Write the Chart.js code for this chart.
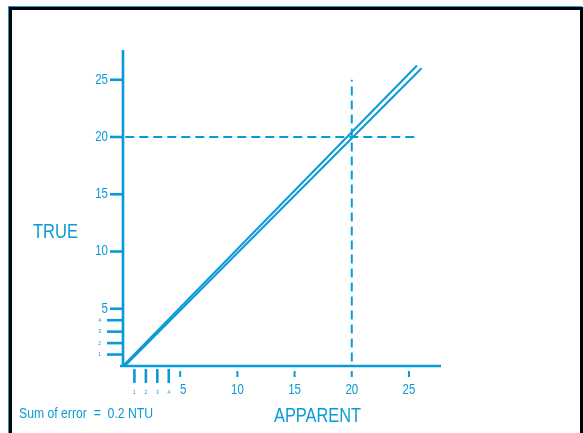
<!DOCTYPE html>
<html>
<head>
<meta charset="utf-8">
<script src="https://cdn.jsdelivr.net/npm/chart.js@4.4.1/dist/chart.umd.min.js"></script>
<style>
html,body{margin:0;padding:0;background:#fff;}
#wrap{position:absolute;left:0;top:0;width:583px;height:433px;}
</style>
</head>
<body>
<div id="wrap"><canvas id="c" width="583" height="433"></canvas></div>
<script>
// ---- data ----
const minorTicks = [1, 2, 3, 4];
const majorTicks = [5, 10, 15, 20, 25];
const majorLabels = ['5', '10', '15', '20', '25'];
const upperLine = [{x: 0, y: 0}, {x: 25.7, y: 26.25}];
const lowerLine = [{x: 0.15, y: 0}, {x: 26.1, y: 26.0}];
const refHorizontal = [{x: 0.2, y: 20}, {x: 25.6, y: 20}];
const refVertical = [{x: 20, y: 0.4}, {x: 20, y: 25}];
const xTitle = 'APPARENT';
const yTitle = 'TRUE';
const note = 'Sum of error  =  0.2 NTU';

const BLUE = '#0b9ad8';
const FONT = '"Liberation Sans", Arial, sans-serif';

function drawText(ctx, txt, x, y, size, targetW, align, base) {
  ctx.save();
  ctx.font = size + 'px ' + FONT;
  const w = ctx.measureText(txt).width;
  const sx = targetW ? targetW / w : 0.82;
  ctx.translate(x, y);
  ctx.scale(sx, 1);
  ctx.textAlign = align || 'left';
  ctx.textBaseline = base || 'middle';
  ctx.fillStyle = BLUE;
  ctx.fillText(txt, 0, 0);
  ctx.restore();
}

const decor = {
  id: 'decor',
  beforeDraw(chart) {
    const ctx = chart.ctx;
    ctx.save();
    ctx.fillStyle = '#fff';
    ctx.fillRect(0, 0, 583, 433);
    // frame
    ctx.fillStyle = '#1a9ad8';
    ctx.fillRect(8, 6, 574, 1);
    ctx.fillRect(8, 6, 1, 427);
    ctx.fillStyle = '#000';
    ctx.fillRect(9, 7, 574, 3);
    ctx.fillRect(9, 7, 3, 426);
    ctx.fillRect(580, 7, 3, 426);
    ctx.restore();
  },
  afterDraw(chart) {
    const ctx = chart.ctx;
    const xs = chart.scales.x, ys = chart.scales.y;
    const x0 = xs.getPixelForValue(0), y0 = ys.getPixelForValue(0);
    ctx.save();
    ctx.strokeStyle = BLUE;
    ctx.lineCap = 'butt';
    // axes
    ctx.lineWidth = 2.6;
    ctx.beginPath();
    ctx.moveTo(x0, chart.chartArea.top);
    ctx.lineTo(x0, y0 + 1);
    ctx.moveTo(x0 - 3, y0);
    ctx.lineTo(chart.chartArea.right, y0);
    ctx.stroke();
    // y ticks
    minorTicks.forEach(v => {
      const py = ys.getPixelForValue(v);
      ctx.beginPath(); ctx.moveTo(x0 - 16, py); ctx.lineTo(x0, py); ctx.stroke();
      drawText(ctx, String(v), x0 - 22, py, 6, null, 'right');
    });
    majorTicks.forEach((v, i) => {
      const py = ys.getPixelForValue(v);
      ctx.beginPath(); ctx.moveTo(x0 - 13, py); ctx.lineTo(x0, py); ctx.stroke();
      drawText(ctx, majorLabels[i], x0 - 15, py, 14, null, 'right');
    });
    // x ticks
    minorTicks.forEach(v => {
      const px = xs.getPixelForValue(v);
      ctx.beginPath(); ctx.moveTo(px, y0 + 3); ctx.lineTo(px, y0 + 17); ctx.stroke();
      drawText(ctx, String(v), px, y0 + 26, 6, null, 'center');
    });
    ctx.lineWidth = 2;
    majorTicks.forEach((v, i) => {
      const px = xs.getPixelForValue(v);
      ctx.beginPath(); ctx.moveTo(px, y0 + 5); ctx.lineTo(px, y0 + 11); ctx.stroke();
      drawText(ctx, majorLabels[i], px + (v === 5 ? 3 : 0), y0 + 24, 14, null, 'center');
    });
    // titles
    drawText(ctx, yTitle, 33, 232, 21, 45, 'left');
    drawText(ctx, xTitle, 274, 416, 21, 87, 'left');
    drawText(ctx, note, 19, 414, 14, 134, 'left');
    ctx.restore();
  }
};

new Chart(document.getElementById('c'), {
  type: 'scatter',
  data: {
    datasets: [
      {data: upperLine, showLine: true, borderColor: BLUE, borderWidth: 2, pointRadius: 0, clip: false},
      {data: lowerLine, showLine: true, borderColor: BLUE, borderWidth: 2, pointRadius: 0, clip: false},
      {data: refHorizontal, showLine: true, borderColor: BLUE, borderWidth: 2, borderDash: [9, 5], pointRadius: 0, clip: false},
      {data: refVertical, showLine: true, borderColor: BLUE, borderWidth: 2, borderDash: [9, 5], pointRadius: 0, clip: false}
    ]
  },
  options: {
    responsive: false,
    animation: false,
    events: [],
    layout: {padding: {left: 123, top: 50, right: 142, bottom: 67}},
    plugins: {legend: {display: false}, tooltip: {enabled: false}},
    scales: {
      x: {type: 'linear', min: 0, max: 27.8, display: false},
      y: {type: 'linear', min: 0, max: 27.6, display: false}
    }
  },
  plugins: [decor]
});
</script>
</body>
</html>
